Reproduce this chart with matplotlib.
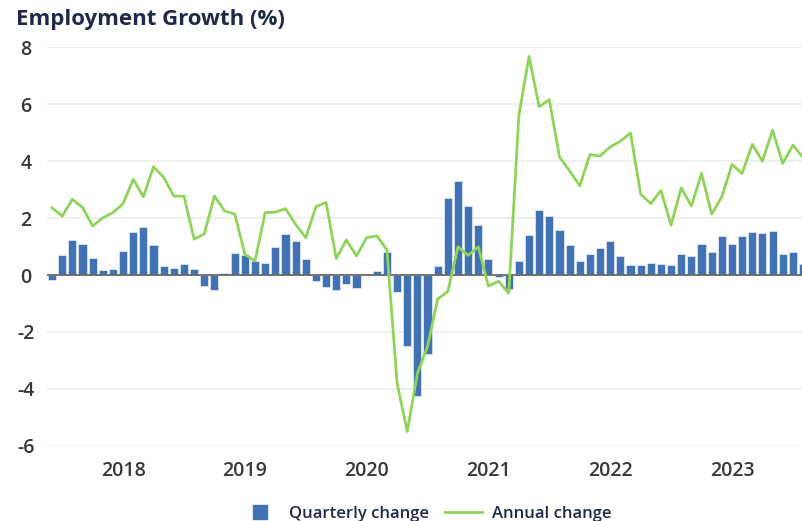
import matplotlib.pyplot as plt
from matplotlib.lines import Line2D
import numpy as np
import pandas as pd

# monthly series, Jun 2017 - Aug 2023
months = pd.date_range("2017-06-01", periods=75, freq="MS")

quarterly = [-0.18, 0.72, 1.24, 1.10, 0.58, 0.19, 0.22, 0.86, 1.52, 1.68,
             1.04, 0.31, 0.26, 0.40, 0.21, -0.37, -0.54, 0.06, 0.77, 0.70,
             0.48, 0.43, 0.97, 1.44, 1.20, 0.57, -0.21, -0.41, -0.51, -0.30,
             -0.46, 0.01, 0.15, 0.80, -0.58, -2.50, -4.26, -2.78, 0.31, 2.71,
             3.31, 2.42, 1.74, 0.56, -0.06, -0.48, 0.49, 1.40, 2.30, 2.07,
             1.57, 1.04, 0.49, 0.73, 0.95, 1.18, 0.68, 0.36, 0.36, 0.43,
             0.40, 0.36, 0.75, 0.68, 1.08, 0.82, 1.36, 1.10, 1.37, 1.51,
             1.46, 1.56, 0.73, 0.82, 0.39]

annual = [2.36, 2.07, 2.66, 2.37, 1.72, 2.01, 2.19, 2.51, 3.36, 2.75,
          3.80, 3.43, 2.77, 2.77, 1.26, 1.44, 2.78, 2.25, 2.14, 0.73,
          0.49, 2.19, 2.21, 2.33, 1.78, 1.31, 2.40, 2.55, 0.58, 1.23,
          0.67, 1.31, 1.38, 0.88, -3.80, -5.50, -3.45, -2.51, -0.84, -0.58,
          0.99, 0.69, 0.99, -0.39, -0.22, -0.64, 5.61, 7.68, 5.91, 6.16,
          4.15, 3.66, 3.13, 4.23, 4.18, 4.50, 4.70, 4.99, 2.84, 2.51,
          2.97, 1.75, 3.06, 2.42, 3.57, 2.14, 2.75, 3.88, 3.57, 4.59,
          4.00, 5.09, 3.92, 4.56, 4.13]

yticks = [-6, -4, -2, 0, 2, 4, 6, 8]

plt.rcParams['font.family'] = ['Open Sans', 'DejaVu Sans']
plt.rcParams['axes.unicode_minus'] = False

fig = plt.figure(figsize=(8.02, 5.21), dpi=100)
ax = fig.add_axes([0.0586, 0.1443, 0.9414, 0.765])

x = np.arange(len(months))
ax.bar(x, quarterly, width=0.8, color='#4173b4', edgecolor='#dbe5f2',
       linewidth=0.6, zorder=2)
ax.axhline(0, color='#6b6b6b', lw=1.3, zorder=2.5)
ax.plot(x, annual, color='#8fd45a', lw=2, zorder=3)

ax.set_ylim(-6, 8)
ax.set_xlim(-0.5, 73.9)
ax.set_yticks(yticks)
ax.grid(axis='y', color='#ececec', lw=1.2, zorder=0)
ax.set_axisbelow(True)
for s in ax.spines.values():
    s.set_visible(False)

# year labels at each January
jan = [i for i, m in enumerate(months) if m.month == 1]
ax.set_xticks(jan)
ax.set_xticklabels([str(months[i].year) for i in jan])
ax.tick_params(axis='both', length=0, labelsize=14, labelcolor='#383838')
ax.tick_params(axis='y', pad=15)
ax.tick_params(axis='x', pad=11)
for lab in ax.get_yticklabels() + ax.get_xticklabels():
    lab.set_fontweight('semibold')
for lab in ax.get_yticklabels():
    lab.set_ha('center')

fig.text(16 / 802, 1 - 9 / 521, "Employment Growth (%)", ha='left', va='top',
         fontsize=16, fontweight='bold', color='#1e2a47')

handles = [Line2D([], [], marker='s', ls='none', ms=10, color='#4173b4'),
           Line2D([], [], color='#8fd45a', lw=2)]
fig.legend(handles, ["Quarterly change", "Annual change"], loc='center',
           bbox_to_anchor=(0.532, 0.013), ncol=2, frameon=False,
           handlelength=2.2, handletextpad=0.6, columnspacing=1.0,
           labelcolor='#1e2a47', prop={'weight': 'semibold', 'size': 12})

fig.savefig("out.png", dpi=100)
